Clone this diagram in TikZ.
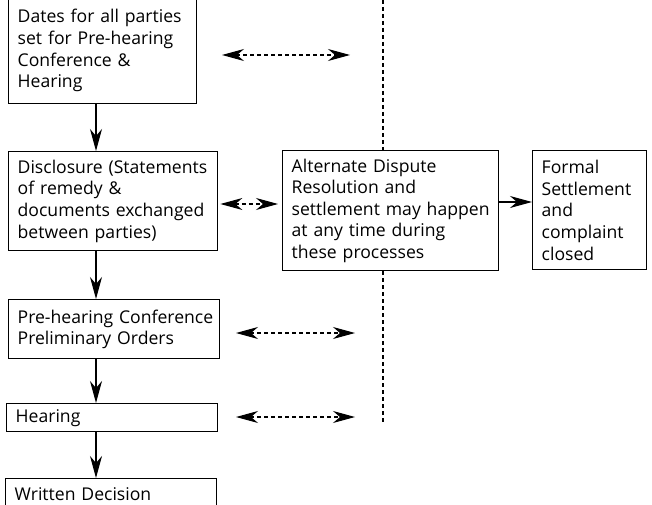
\documentclass[tikz,border=0pt]{standalone}
\usepackage{fontspec}
\setmainfont{Open Sans}
\usetikzlibrary{arrows.meta}
\begin{document}
\begin{tikzpicture}[x=1pt, y=-1pt,
	box/.style={draw, line width=1.4pt, anchor=north west, align=left, inner xsep=9pt, inner ysep=0pt,
		font=\fontsize{17.6}{21.6}\selectfont},
	arr/.style={line width=1.4pt, -{Stealth[length=22pt, width=12pt, inset=7pt]}},
	darr/.style={line width=1.1pt, dash pattern=on 4pt off 3pt,
		{Stealth[length=22pt, width=12pt, inset=7pt]}-{Stealth[length=22pt, width=12pt, inset=7pt]}}]
	\useasboundingbox (0,0) rectangle (652,505);
	
	\node[box, minimum width=188pt, minimum height=106pt, text width=170pt](dates) at (8,-3)
		{Dates for all parties\\set for Pre-hearing\\Conference \&\\Hearing};
	\node[box, minimum width=209pt, minimum height=99pt, text width=191pt](discl) at (8,151)
		{Disclosure (Statements\\of remedy \&\\documents exchanged\\between parties)};
	\node[box, minimum width=211pt, minimum height=59pt, text width=193pt](pre) at (8,299)
		{\mbox{Pre-hearing Conference}\\Preliminary Orders};
	\node[box, minimum width=211pt, minimum height=28pt, text width=193pt](hear) at (6,403)
		{Hearing};
	\node[box, minimum width=211pt, minimum height=30pt, text width=193pt](written) at (5,478)
		{Written Decision};
	\node[box, minimum width=216pt, minimum height=120pt, text width=198pt](adr) at (282,150)
		{Alternate Dispute\\Resolution and\\settlement may happen\\at any time during\\these processes};
	\node[box, minimum width=114pt, minimum height=119pt, text width=96pt](formal) at (532,150)
		{Formal\\Settlement\\and\\complaint\\closed};
	
	\coordinate (spine) at (96,0);
	\coordinate (top) at (383,0);
	\coordinate (bottom) at (383,423);
	\coordinate (a1) at (222,55);
	\coordinate (b1) at (350,55);
	\coordinate (a2) at (236,333);
	\coordinate (b2) at (355,333);
	\coordinate (a3) at (236,417);
	\coordinate (b3) at (355,417);
	\coordinate (mid) at (0,204);
	\coordinate (side) at (0,202);
	
	\draw[arr] (dates.south -| spine) -- (discl.north -| spine);
	\draw[arr] (discl.south -| spine) -- (pre.north -| spine);
	\draw[arr] (pre.south -| spine) -- (hear.north -| spine);
	\draw[arr] (hear.south -| spine) -- (written.north -| spine);
	
	\draw[darr] (a1) -- (b1);
	\draw[darr] ([xshift=2pt]discl.east |- mid) -- ([xshift=-4pt]adr.west |- mid);
	\draw[darr] (a2) -- (b2);
	\draw[darr] (a3) -- (b3);
	\draw[arr] (adr.east |- side) -- (formal.west |- side);
	
	\draw[line width=1.1pt, dash pattern=on 4pt off 3pt] (top) -- (adr.north -| top);
	\draw[line width=1.1pt, dash pattern=on 4pt off 3pt] (adr.south -| top) -- (bottom);
\end{tikzpicture}
\end{document}
